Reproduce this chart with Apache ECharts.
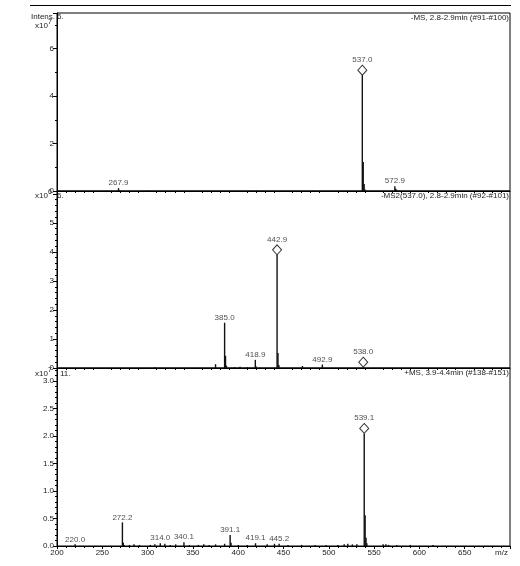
<!DOCTYPE html>
<html><head><meta charset="utf-8">
<script src="https://cdn.jsdelivr.net/npm/echarts@6/dist/echarts.min.js"></script>
<style>html,body{margin:0;padding:0;background:#fff}#c{width:520px;height:566px}</style>
</head><body><div id="c"></div>
<script>
// ---------- DATA ----------
const xMin = 200, xMax = 700;
// Panel 1: -MS, 2.8-2.9min (#91-#100), intensity x10^7
const p1Mz  = [267.9, 268.9, 300.0, 420.0, 483.0, 537.0, 538.0, 539.0, 540.0, 572.9, 573.9, 574.9];
const p1Int = [0.12,  0.03,  0.02,  0.02,  0.02,  4.88,  1.22,  0.30,  0.06,  0.20,  0.10,  0.05];
const p1LabMz   = [267.9, 572.9];
const p1LabInt  = [0.12, 0.20];
const p1DiaMz   = [537.0];
const p1DiaInt  = [4.88];

// Panel 2: -MS2(537.0), 2.8-2.9min (#92-#101), intensity x10^6
const p2Mz  = [308.0, 375.0, 385.0, 386.0, 387.0, 396.0, 402.0, 410.0, 418.9, 419.9, 442.9, 443.9, 444.9, 470.9, 492.9, 538.0];
const p2Int = [0.03,  0.13,  1.56,  0.42,  0.08,  0.03,  0.04,  0.03,  0.28,  0.05,  3.90,  0.52,  0.10,  0.07,  0.12,  0.03];
const p2LabMz  = [385.0, 418.9, 492.9];
const p2LabInt = [1.56, 0.28, 0.12];
const p2DiaMz  = [442.9, 538.0];
const p2DiaInt = [3.90, 0.03];

// Panel 3: +MS, 3.9-4.4min (#138-#151), intensity x10^7
const p3Mz  = [220.0, 272.2, 273.2, 274.2, 280, 285, 291, 303, 308, 314.0, 319, 325, 331, 340.1, 346, 356, 362, 368, 375, 385, 391.1, 392.1, 400, 410, 419.1, 432, 440, 445.2, 455, 470, 485, 497, 510, 517, 521, 526, 531, 539.1, 540.1, 541.1, 542, 560, 563, 566, 575, 590, 615];
const p3Int = [0.03,  0.43,  0.06,  0.02,  0.02, 0.03, 0.02, 0.02, 0.03, 0.05, 0.04, 0.02, 0.03, 0.07, 0.02, 0.02, 0.03, 0.02, 0.03, 0.04, 0.20, 0.06, 0.02, 0.02, 0.05, 0.03, 0.04, 0.04, 0.02, 0.02, 0.02, 0.02, 0.02, 0.03, 0.04, 0.03, 0.03, 2.05, 0.56, 0.15, 0.05, 0.03, 0.03, 0.02, 0.02, 0.02, 0.02];
const p3LabMz  = [220.0, 272.2, 314.0, 340.1, 391.1, 419.1, 445.2];
const p3LabInt = [0.03, 0.43, 0.05, 0.07, 0.20, 0.05, 0.04];
const p3DiaMz  = [539.1];
const p3DiaInt = [2.05];

const titles = ['-MS, 2.8-2.9min (#91-#100)', '-MS2(537.0), 2.8-2.9min (#92-#101)', '+MS, 3.9-4.4min (#138-#151)'];
const xTickStep = 50;
const yMax = [7.5, 6.1, 3.24];
const yStep = [2, 1, 0.5];
const yLabelLimit = [6, 5, 3.0];
const yDecimals = [0, 0, 1];
const yMinorSplit = [2, 5, 5];

// ---------- BUILD ----------
const FONT = '"Liberation Sans", Arial, sans-serif';
const FS = 8;
const TXT = '#222';
const grids = [
  {left: 57, right: 10, top: 13, height: 178},
  {left: 57, right: 10, top: 191, height: 177},
  {left: 57, right: 10, top: 368, height: 178}
].map(g => Object.assign(g, {show: true, borderColor: '#000', borderWidth: 1, backgroundColor: 'transparent'}));

const xAxes = [0,1,2].map(i => ({
  type: 'value', gridIndex: i, min: xMin, max: xMax, interval: xTickStep,
  axisLine: {lineStyle: {color: '#000', width: 1}},
  axisTick: {show: i === 2, length: 3, lineStyle: {color: '#000'}},
  minorTick: {show: true, splitNumber: 5, length: 2, lineStyle: {color: '#000'}},
  splitLine: {show: false},
  axisLabel: {show: i === 2, fontSize: FS, fontFamily: FONT, color: TXT, margin: 3,
    formatter: v => (v >= 700 ? '' : String(v))}
}));

const yAxes = [0,1,2].map(i => ({
  type: 'value', gridIndex: i, min: 0, max: yMax[i], interval: yStep[i],
  axisLine: {show: true, lineStyle: {color: '#000', width: 1}},
  axisTick: {show: true, length: 4, lineStyle: {color: '#000'}},
  minorTick: {show: true, splitNumber: yMinorSplit[i], length: 2, lineStyle: {color: '#000'}},
  splitLine: {show: false},
  axisLabel: {fontSize: FS, fontFamily: FONT, color: TXT, margin: 3, showMaxLabel: false,
    formatter: v => {
      const k = v / yStep[i];
      if (Math.abs(k - Math.round(k)) > 1e-6 || v > yLabelLimit[i] + 1e-9) return '';
      return v.toFixed(yDecimals[i]);
    }}
}));

const panels = [
  [p1Mz, p1Int, p1LabMz, p1LabInt, p1DiaMz, p1DiaInt],
  [p2Mz, p2Int, p2LabMz, p2LabInt, p2DiaMz, p2DiaInt],
  [p3Mz, p3Int, p3LabMz, p3LabInt, p3DiaMz, p3DiaInt]
];
const series = [];
const labelStyle = {show: true, fontSize: FS, fontFamily: FONT, color: TXT, position: 'top', distance: 1,
  formatter: p => p.value[0].toFixed(1)};
panels.forEach((p, i) => {
  series.push({type: 'bar', xAxisIndex: i, yAxisIndex: i, barWidth: 1.4, silent: true,
    itemStyle: {color: '#111'}, data: p[0].map((m, j) => [m, p[1][j]]), animation: false});
  series.push({type: 'scatter', xAxisIndex: i, yAxisIndex: i, symbolSize: 0, silent: true,
    label: labelStyle, data: p[2].map((m, j) => [m, p[3][j]]), animation: false});
  series.push({type: 'scatter', xAxisIndex: i, yAxisIndex: i, symbol: 'diamond', symbolSize: [9, 10],
    symbolOffset: [0, -5], silent: true,
    itemStyle: {color: '#fff', borderColor: '#000', borderWidth: 1},
    label: Object.assign({}, labelStyle, {distance: 1}),
    data: p[4].map((m, j) => [m, p[5][j]]), animation: false, z: 5});
});

const txt = (x, y, text, align, size) => ({type: 'text', x, y,
  style: {text, fill: TXT, font: (size || FS) + 'px ' + FONT, textAlign: align || 'left', textVerticalAlign: 'middle'}, z: 10});

const graphic = [
  {type: 'line', shape: {x1: 30, y1: 5.5, x2: 511, y2: 5.5}, style: {stroke: '#000', lineWidth: 1}},
  txt(509, 18, titles[0], 'right'),
  txt(509, 196, titles[1], 'right'),
  txt(509, 373, titles[2], 'right'),
  txt(31, 17, 'Intens.'),
  txt(57, 17, '6.'),
  txt(35, 26, 'x10'), txt(48, 22, '7', 'left', 7),
  txt(35, 196, 'x10'), txt(48, 192, '6', 'left', 7), txt(57, 196, '6.'),
  txt(35, 374, 'x10'), txt(48, 370, '7', 'left', 7), txt(60, 374, '11.'),
  txt(508, 553, 'm/z', 'right')
];

const chart = echarts.init(document.getElementById('c'), null, {renderer: 'canvas'});
chart.setOption({animation: false, backgroundColor: '#fff', grid: grids, xAxis: xAxes, yAxis: yAxes, series, graphic});
</script></body></html>
